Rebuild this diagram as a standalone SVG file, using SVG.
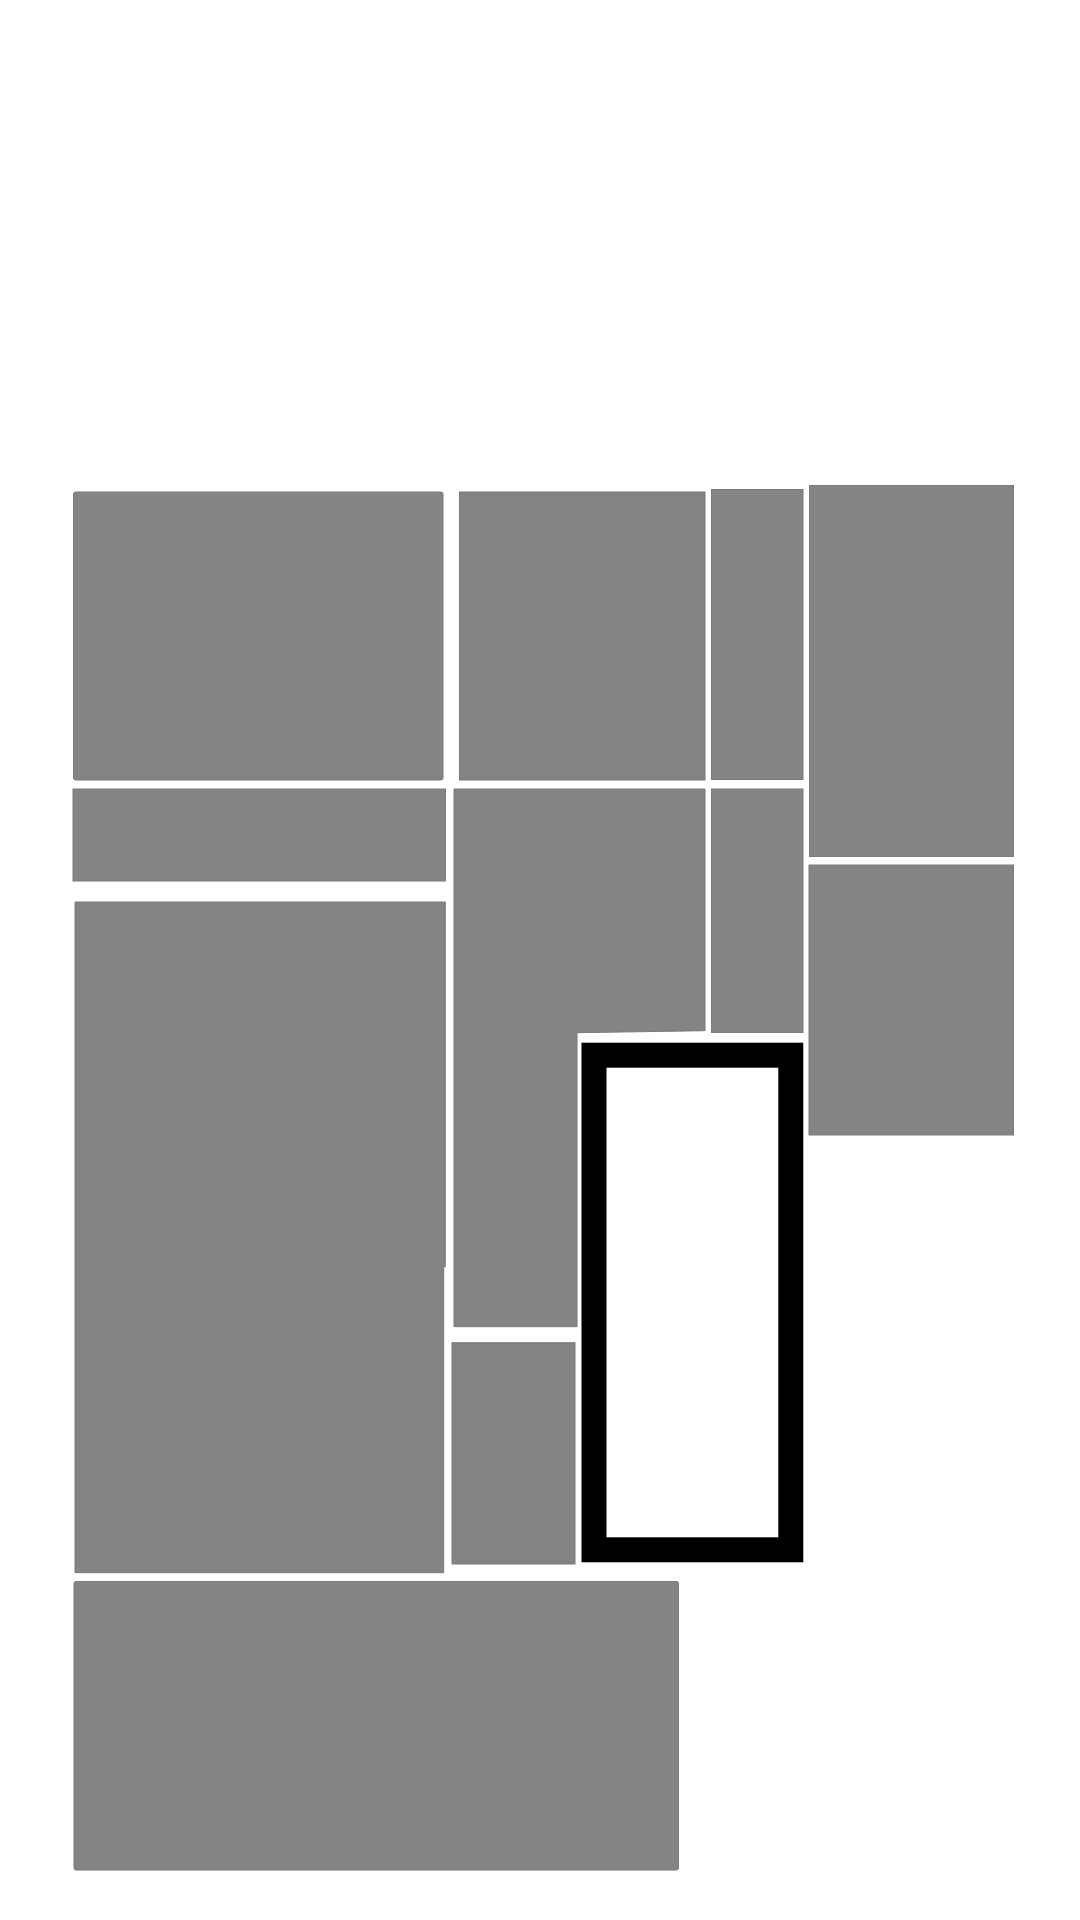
<svg xmlns="http://www.w3.org/2000/svg" width="1080" height="1920" viewBox="0 0 1080 1920">
<style>
.room{fill:#848484;stroke:#7b7b7b;stroke-width:1}
.hl{fill:none;stroke:#000;stroke-width:25}
</style>
<rect width="1080" height="1920" fill="#fff"/>
<g id="r1"><rect class="room" x="73.5" y="492" width="369.5" height="288" rx="2"/></g>
<g id="r2"><rect class="room" x="459.5" y="492" width="245.5" height="288"/></g>
<g id="r3"><rect class="room" x="711.5" y="489.5" width="91.5" height="290"/></g>
<g id="r4"><rect class="room" x="809.5" y="485.5" width="204" height="371"/></g>
<g id="r5"><rect class="room" x="73" y="789" width="372.5" height="92"/></g>
<g id="r6"><path class="room" d="M454,789 L705,789 L705,1030.7 L577,1032.7 L577,1326.7 L454,1326.7 Z"/></g>
<g id="r7"><rect class="room" x="711.5" y="789" width="91.5" height="243.5"/></g>
<g id="r8"><rect class="room" x="809" y="865" width="204.5" height="270"/></g>
<g id="r9"><path class="room" d="M75,902 L445.3,902 L445.3,1266.7 L443.7,1266.7 L443.7,1572.7 L75,1572.7 Z"/></g>
<g id="r10"><rect class="room" x="452" y="1342.7" width="123" height="221.3"/></g>
<g id="r11"><rect class="hl" x="594" y="1055.2" width="196.8" height="494.6"/></g>
<g id="r12"><rect class="room" x="74" y="1581.5" width="604.5" height="288.5" rx="2"/></g>
<g id="connectors"/>
</svg>
